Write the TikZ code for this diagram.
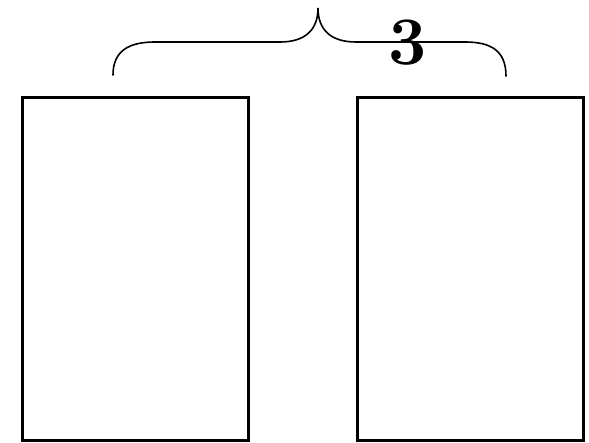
\documentclass[tikz,border=0pt]{standalone}
\begin{document}
\begin{tikzpicture}[x=1pt,y=-1pt,
  box/.style={draw=black,line width=3pt},
  bracestyle/.style={draw=black,line width=1.6pt,line cap=round}]
\useasboundingbox (0,0) rectangle (589,443);
\node[box,minimum width=226pt,minimum height=342pt,inner sep=0pt] (L) at (135,269) {};
\node[box,minimum width=226pt,minimum height=342pt,inner sep=0pt] (R) at (470,269) {};
\coordinate (bl) at (113,75);
\coordinate (bm) at (318,8);
\coordinate (br) at (506,76);
\draw[bracestyle] (bl) .. controls (113,50) and (130,42) .. (155,42) -- (280,42)
  .. controls (305,42) and (318,30) .. (bm)
  .. controls (318,30) and (331,42) .. (356,42) -- (465,42)
  .. controls (490,42) and (506,50) .. (br);
\node[font=\fontsize{68}{70}\selectfont\bfseries,inner sep=0pt] (t) at (408,43) {3};
\end{tikzpicture}
\end{document}
